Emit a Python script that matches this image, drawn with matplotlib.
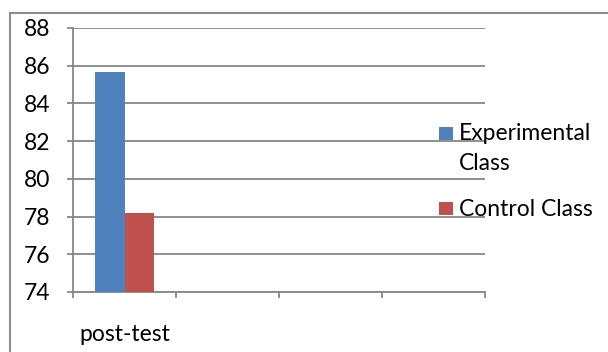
import matplotlib
matplotlib.use("Agg")
import matplotlib.pyplot as plt
from matplotlib.lines import Line2D
from matplotlib.patches import Rectangle
import numpy as np

plt.rcParams['font.family'] = ['Lato', 'DejaVu Sans']

categories = ["post-test", "", "", ""]
series_names = ["Experimental\nClass", "Control Class"]
experimental = [85.65, None, None, None]
control = [78.17, None, None, None]
colors = ["#4F81BD", "#C0504D"]
yticks = [74, 76, 78, 80, 82, 84, 86, 88]

W, H = 608, 352
fig = plt.figure(figsize=(W / 100, H / 100), dpi=100)
ax = fig.add_axes([73 / W, 1 - 292 / H, (485 - 73) / W, (292 - 28) / H])

grid_c = "#878787"
fs = 16.5

width = 0.285
x = np.arange(len(categories))
for i, (vals, name, c) in enumerate(zip([experimental, control], series_names, colors)):
    xs = [xi + (i - 0.5) * width for xi, v in zip(x, vals) if v is not None]
    hs = [v - yticks[0] for v in vals if v is not None]
    ax.bar(xs, hs, width=width, bottom=yticks[0], color=c, label=name, zorder=3)

ax.set_ylim(yticks[0], yticks[-1])
ax.set_xlim(-0.5, len(categories) - 0.5)
ax.set_yticks(yticks)
ax.set_yticklabels([str(t) for t in yticks], fontsize=fs)
ax.yaxis.grid(True, color=grid_c, linewidth=1.3, zorder=0)
ax.set_axisbelow(True)

ax.set_xticks(x)
ax.set_xticklabels(categories, fontsize=fs)
ax.set_xticks(np.arange(-0.5, len(categories)), minor=True)
ax.tick_params(axis='x', which='major', length=0, pad=23)
ax.tick_params(axis='x', which='minor', length=4.5, color=grid_c, width=1.3)
ax.tick_params(axis='y', length=4.5, color=grid_c, width=1.3, pad=12)

for s in ["top", "right"]:
    ax.spines[s].set_visible(False)
for s in ["left", "bottom"]:
    ax.spines[s].set_color(grid_c)
    ax.spines[s].set_linewidth(1.3)

# outer chart frame
fig.add_artist(Line2D([10 / W, 10 / W], [0, 1 - 13 / H], transform=fig.transFigure, color="#8c8c8c", lw=1.5))
fig.add_artist(Line2D([10 / W, 1], [1 - 13 / H, 1 - 13 / H], transform=fig.transFigure, color="#8c8c8c", lw=1.5))

# legend (drawn manually to match the original layout)
leg_sq = [(439, 127), (439, 202)]
leg_txt = [[(459, 133), (459, 163)], [(459, 209)]]
for (lx, ly), c, name, tpos in zip(leg_sq, colors, series_names, leg_txt):
    fig.add_artist(Rectangle((lx / W, 1 - (ly + 13) / H), 14 / W, 13 / H,
                             transform=fig.transFigure, facecolor=c, edgecolor="none"))
    for line, (tx, ty) in zip(name.split("\n"), tpos):
        fig.text(tx / W, 1 - ty / H, line, fontsize=fs, ha="left", va="center")

fig.savefig("out.png", dpi=100)
